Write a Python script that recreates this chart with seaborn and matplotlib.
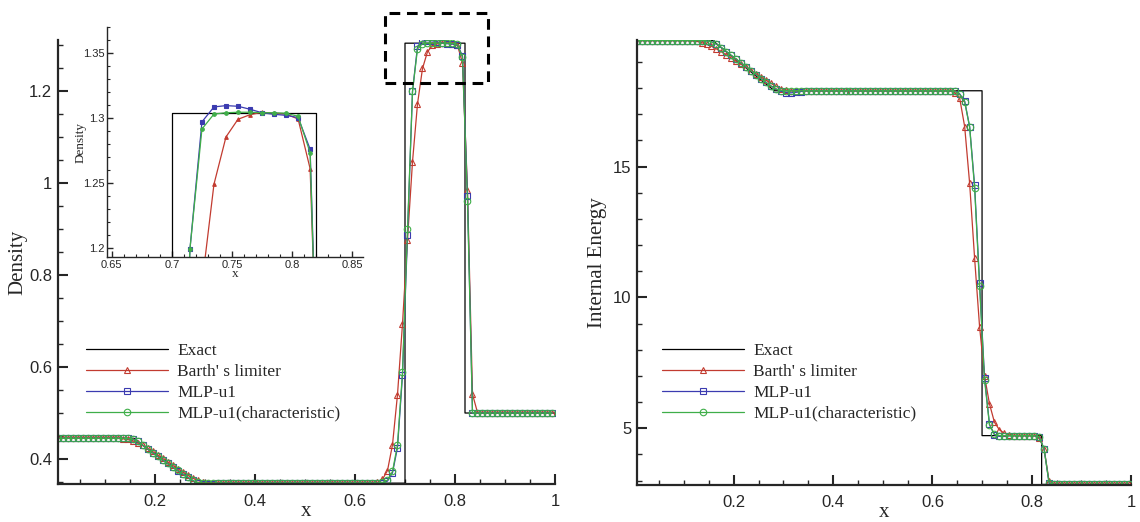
import matplotlib
matplotlib.use("Agg")
import matplotlib.pyplot as plt
from matplotlib.patches import Rectangle
from matplotlib.ticker import MultipleLocator, FixedLocator
import seaborn as sns
import numpy as np

sns.set_style("ticks")
plt.rcParams['font.family'] = ['Liberation Sans', 'DejaVu Sans']

# ---------------- data ----------------
x_cells = [round(0.005 + 0.01 * i, 3) for i in range(100)]

exact_x = [0.0, 0.158, 0.17, 0.18, 0.19, 0.20, 0.21, 0.22, 0.23, 0.24, 0.25, 0.26,
           0.27, 0.28, 0.283, 0.700, 0.700, 0.820, 0.820, 1.0]
exact_rho = [0.445, 0.445, 0.4345, 0.4262, 0.4180, 0.4099, 0.4020, 0.3941, 0.3864,
             0.3788, 0.3713, 0.3640, 0.3568, 0.3497, 0.3475, 0.3475, 1.304, 1.304,
             0.5, 0.5]
exact_e = [19.82, 19.82, 19.62, 19.47, 19.31, 19.16, 19.0, 18.85, 18.69, 18.54,
           18.38, 18.23, 18.08, 17.93, 17.9, 17.9, 4.72, 4.72, 2.855, 2.855]

rho_barth = ([0.445] * 12 +
             [0.4448, 0.444, 0.4425, 0.4395, 0.4355, 0.430, 0.4235, 0.4165, 0.409, 0.4015,
              0.394, 0.3865, 0.3792, 0.372, 0.365, 0.3585, 0.3535, 0.3502, 0.3485, 0.3478] +
             [0.3475] * 32 +
             [0.349, 0.356, 0.375, 0.431, 0.54, 0.694, 0.877, 1.046, 1.172, 1.249, 1.2854,
              1.299, 1.3025, 1.3044, 1.3036, 1.303, 1.2992, 1.261, 0.984, 0.541, 0.501] +
             [0.5] * 15)
rho_mlp = ([0.445] * 14 +
           [0.4447, 0.4435, 0.4385, 0.4305, 0.422, 0.4138, 0.4058, 0.398, 0.3903, 0.3826,
            0.375, 0.3677, 0.3605, 0.3535, 0.3485, 0.3465, 0.3462, 0.3465, 0.347] +
           [0.3475] * 31 +
           [0.3476, 0.3485, 0.352, 0.37, 0.425, 0.582, 0.888, 1.199, 1.297, 1.3085, 1.3095,
            1.309, 1.3067, 1.304, 1.3028, 1.302, 1.3003, 1.276, 0.972, 0.499] +
           [0.5] * 16)
rho_char = ([0.445] * 14 +
            [0.4447, 0.4435, 0.4387, 0.4307, 0.4222, 0.414, 0.406, 0.3981, 0.3904, 0.3827,
             0.3751, 0.3678, 0.3606, 0.3537, 0.349, 0.3478, 0.3475, 0.3475, 0.3475] +
            [0.3475] * 31 +
            [0.3477, 0.349, 0.354, 0.373, 0.431, 0.589, 0.899, 1.199, 1.2915, 1.303, 1.304,
             1.3044, 1.3044, 1.304, 1.304, 1.3036, 1.3013, 1.2733, 0.961, 0.5] +
            [0.5] * 16)

e_barth = ([19.82] * 11 +
           [19.81, 19.79, 19.74, 19.68, 19.6, 19.5, 19.39, 19.27, 19.15, 19.03, 18.91,
            18.79, 18.67, 18.55, 18.42, 18.3, 18.18, 18.07, 17.98, 17.93, 17.91] +
           [17.9] * 32 +
           [17.83, 17.61, 16.53, 14.36, 11.5, 8.89, 7.0, 5.93, 5.23, 4.94, 4.81, 4.75] +
           [4.72] * 5 +
           [4.62, 4.22, 2.98, 2.87] +
           [2.855] * 15)
e_mlp = ([19.82] * 14 +
         [19.81, 19.77, 19.68, 19.55, 19.40, 19.25, 19.10, 18.96, 18.81, 18.66, 18.51,
          18.36, 18.22, 18.08, 17.97, 17.88, 17.83, 17.82, 17.84, 17.87] +
         [17.9] * 30 +
         [17.89, 17.78, 17.5, 16.53, 14.29, 10.57, 6.94, 5.15, 4.75, 4.69, 4.71] +
         [4.72] * 6 +
         [4.68, 4.21, 2.9] +
         [2.855] * 16)
e_char = ([19.82] * 14 +
          [19.81, 19.77, 19.68, 19.55, 19.40, 19.25, 19.10, 18.96, 18.81, 18.66, 18.51,
           18.36, 18.22, 18.08, 17.97, 17.91, 17.9, 17.9, 17.9, 17.9] +
          [17.9] * 30 +
          [17.89, 17.76, 17.48, 16.51, 14.19, 10.44, 6.85, 5.13, 4.77, 4.72, 4.72] +
          [4.72] * 6 +
          [4.68, 4.2, 2.92] +
          [2.855] * 16)

labels = ["Exact", "Barth' s limiter", "MLP-u1", "MLP-u1(characteristic)"]
colors = ["#000000", "#c23b30", "#3b3bb0", "#3fae49"]
markers = [None, "^", "s", "o"]

SERIF = ['Liberation Serif', 'DejaVu Serif']

# ---------------- figure ----------------
fig = plt.figure(figsize=(11.4, 5.22), dpi=100)
axL = fig.add_axes([0.05044, 0.07280, 0.43640, 0.85057])
axR = fig.add_axes([0.55877, 0.07088, 0.43333, 0.85249])
axI = fig.add_axes([0.09386, 0.50766, 0.22456, 0.44061])


def draw(ax, exact, series, ms, mfc_none=True, lw=0.9):
    sns.lineplot(x=exact_x, y=exact, ax=ax, color=colors[0], lw=lw, estimator=None,
                 sort=False, label=labels[0])
    for k, ys in enumerate(series, start=1):
        c = colors[k]
        sns.lineplot(x=x_cells, y=ys, ax=ax, color=c, lw=lw, estimator=None, sort=False,
                     marker=markers[k], ms=ms, mec=c,
                     mfc='none' if mfc_none else c, mew=0.8, label=labels[k])


def style_axis(ax, lw_sp=1.6, maj=(7, 1.5), mino=(3.5, 1.0), fs=12, pad=4):
    for s in ['top', 'right']:
        ax.spines[s].set_visible(False)
    for s in ['left', 'bottom']:
        ax.spines[s].set_linewidth(lw_sp)
    ax.tick_params(which='major', direction='in', length=maj[0], width=maj[1],
                   labelsize=fs, pad=pad, top=False, right=False)
    ax.tick_params(which='minor', direction='in', length=mino[0], width=mino[1],
                   top=False, right=False)


# Left panel
draw(axL, exact_rho, [rho_barth, rho_mlp, rho_char], ms=4.7)
axL.set_xlim(0.005, 1.0)
axL.set_ylim(0.3457, 1.3109)
axL.xaxis.set_major_locator(FixedLocator([0.2, 0.4, 0.6, 0.8, 1.0]))
axL.xaxis.set_minor_locator(MultipleLocator(0.05))
axL.yaxis.set_major_locator(FixedLocator([0.4, 0.6, 0.8, 1.0, 1.2]))
axL.yaxis.set_minor_locator(MultipleLocator(0.05))
axL.set_xticklabels(["0.2", "0.4", "0.6", "0.8", "1"])
axL.set_yticklabels(["0.4", "0.6", "0.8", "1", "1.2"])
style_axis(axL)
axL.tick_params(axis='x', pad=7)
axL.set_xlabel("x", family=SERIF, fontsize=15, labelpad=-5)
axL.set_ylabel("Density", family=SERIF, fontsize=15, labelpad=1)
axL.add_patch(Rectangle((0.66, 1.217), 0.206, 0.153, fill=False, ls=(0, (3.5, 2.2)),
                        lw=2.2, ec='black', clip_on=False, zorder=5))

# Right panel
draw(axR, exact_e, [e_barth, e_mlp, e_char], ms=4.7)
axR.set_xlim(0.005, 1.0)
axR.set_ylim(2.833, 19.84)
axR.xaxis.set_major_locator(FixedLocator([0.2, 0.4, 0.6, 0.8, 1.0]))
axR.xaxis.set_minor_locator(MultipleLocator(0.05))
axR.yaxis.set_major_locator(FixedLocator([5, 10, 15]))
axR.yaxis.set_minor_locator(MultipleLocator(1))
axR.set_xticklabels(["0.2", "0.4", "0.6", "0.8", "1"])
axR.set_yticklabels(["5", "10", "15"])
style_axis(axR)
axR.tick_params(axis='x', pad=7)
axR.set_xlabel("x", family=SERIF, fontsize=15, labelpad=-5)
axR.set_ylabel("Internal Energy", family=SERIF, fontsize=15, labelpad=4)

# Inset
draw(axI, exact_rho, [rho_barth, rho_mlp, rho_char], ms=2.6, mfc_none=False, lw=0.9)
axI.set_xlim(0.646, 0.859)
axI.set_ylim(1.193, 1.37)
axI.xaxis.set_major_locator(FixedLocator([0.65, 0.7, 0.75, 0.8, 0.85]))
axI.xaxis.set_minor_locator(MultipleLocator(0.01))
axI.yaxis.set_major_locator(FixedLocator([1.2, 1.25, 1.3, 1.35]))
axI.yaxis.set_minor_locator(MultipleLocator(0.01))
axI.set_xticklabels(["0.65", "0.7", "0.75", "0.8", "0.85"])
axI.set_yticklabels(["1.2", "1.25", "1.3", "1.35"])
style_axis(axI, lw_sp=1.0, maj=(4, 1.0), mino=(2.5, 0.8), fs=8, pad=2)
axI.set_xlabel("x", family=SERIF, fontsize=9.5, labelpad=-1)
axI.set_ylabel("Density", family=SERIF, fontsize=9.5, labelpad=-3)
axI.patch.set_alpha(0.0)
if axI.get_legend():
    axI.get_legend().remove()

# Legends
for ax, xpx in [(axL, 86), (axR, 662)]:
    h, l = ax.get_legend_handles_labels()
    ax.legend(h[:4], l[:4], loc='upper left',
              bbox_to_anchor=(xpx / 1140, 1 - 343 / 522),
              bbox_transform=fig.transFigure, frameon=False, borderpad=0,
              borderaxespad=0, handlelength=4.75, handletextpad=0.5,
              labelspacing=0.27, prop={'family': SERIF, 'size': 12.5})

fig.savefig("out.png", dpi=100)
